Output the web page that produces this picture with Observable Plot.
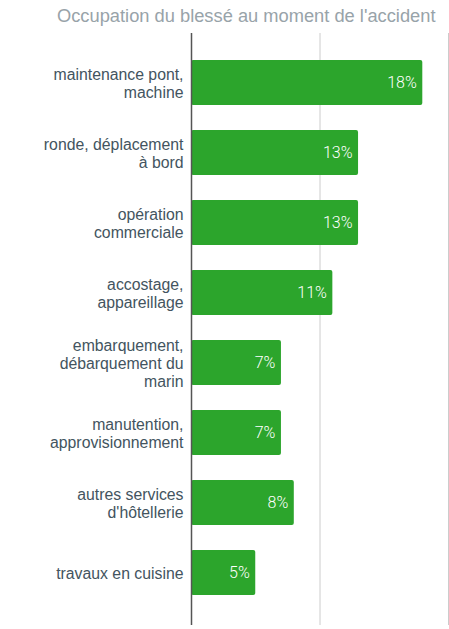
<!DOCTYPE html>
<html><head><meta charset="utf-8">
<script src="https://cdn.jsdelivr.net/npm/d3@7"></script>
<script src="https://cdn.jsdelivr.net/npm/@observablehq/plot@0.6"></script>
<style>
body{margin:0;background:#fff;font-family:"Liberation Sans",Arial,sans-serif;}
#title{height:30px;line-height:32px;font-size:18.3px;color:#98a3a9;padding-left:57px;white-space:nowrap;box-sizing:border-box;}
</style></head><body>
<div id="title">Occupation du blessé au moment de l'accident</div>
<div id="chart"></div>
<script>
const categories = [
  "maintenance pont,\nmachine",
  "ronde, déplacement\nà bord",
  "opération\ncommerciale",
  "accostage,\nappareillage",
  "embarquement,\ndébarquement du\nmarin",
  "manutention,\napprovisionnement",
  "autres services\nd'hôtellerie",
  "travaux en cuisine"
];
const values = [18, 13, 13, 11, 7, 7, 8, 5];
const gridTicks = [10, 20];

const data = categories.map((c, i) => ({cat: c, value: values[i]}));

const chart = Plot.plot({
  width: 449,
  height: 599,
  marginLeft: 191,
  marginRight: 1,
  marginTop: 3,
  marginBottom: 4,
  x: {domain: [0, 20], axis: null},
  y: {domain: categories, range: [14.3, 580.1], paddingInner: 0.36, paddingOuter: 0.18, axis: null},
  style: {fontFamily: "'Liberation Sans', Arial, sans-serif", background: "#fff"},
  marks: [
    Plot.ruleX(gridTicks, {stroke: "#cccccc", strokeWidth: 1, strokeOpacity: 1}),
    Plot.barX(data, {x: "value", y: "cat", fill: "#2ca52c", rx: 2}),
    Plot.ruleX([0], {stroke: "#555555", strokeWidth: 1.5}),
    Plot.text(data, {x: 0, y: "cat", text: "cat", textAnchor: "end", dx: -8, fontSize: 15.8, fill: "#435460", lineHeight: 1.14}),
    Plot.text(data, {x: "value", y: "cat", text: d => d.value + "%", textAnchor: "end", dx: -6, fontSize: 16, fill: "#ffffff", fontFamily: "Roboto, 'Liberation Sans', sans-serif", fontWeight: 300})
  ]
});
document.getElementById("chart").appendChild(chart);
</script>
</body></html>
